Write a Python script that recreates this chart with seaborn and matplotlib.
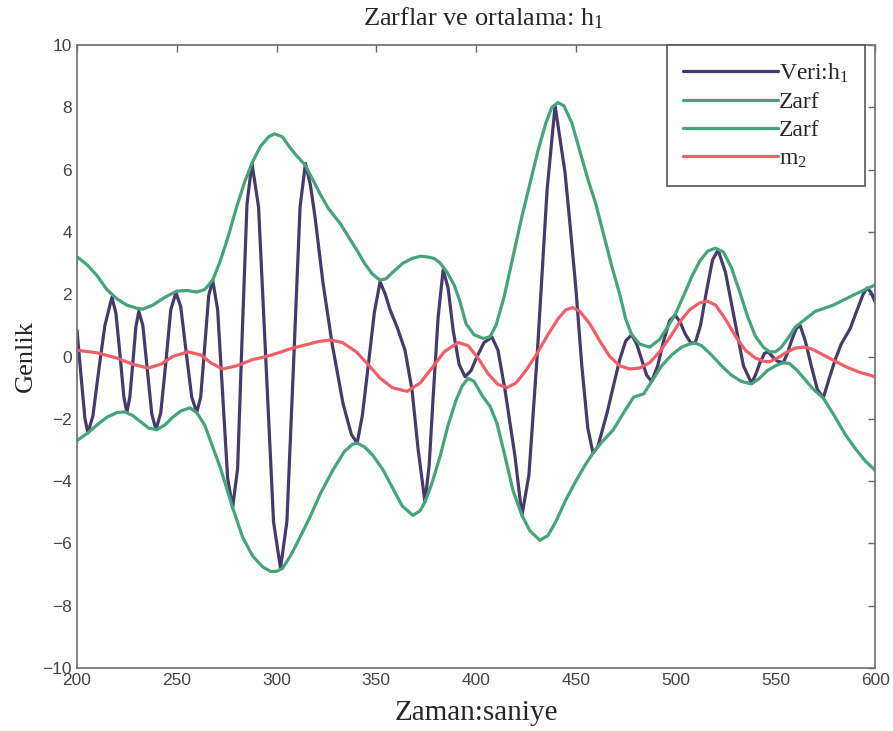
import numpy as np
import pandas as pd
import matplotlib
matplotlib.use('Agg')
import matplotlib.pyplot as plt
import seaborn as sns

# signal h1
sig_x = [200, 202, 204, 205.5, 208, 211, 214, 217.5, 219.5, 221.5, 223.5, 225, 226.5, 228, 229.5, 231,
         233, 235.3, 237.5, 239.6, 242, 244.6, 247, 249.6, 252, 254.8, 257.5, 260, 262, 264, 266, 268,
         270.5, 273, 275.5, 278, 280.5, 282.8, 285.2, 287.7, 291, 294.8, 298.5, 302, 305.2, 308.5, 311.8,
         314.5, 317, 319.3, 323.3, 327.8, 333.3, 337.5, 340.4, 343, 345.9, 349, 351.9, 354.5, 356.9,
         360.4, 364.4, 367.9, 371, 374.4, 376.5, 378.4, 381, 383.5, 386, 388.5, 391.5, 394.5, 397.5,
         400.5, 404, 408, 411, 414.5, 419.5, 423, 426.5, 430.6, 435.6, 439.6, 444.6, 447, 450, 453, 456,
         458.6, 461, 465.7, 469, 472, 475, 478, 480.5, 483, 485.5, 488, 491, 494, 497, 499.8, 502.3, 505,
         507.5, 509.8, 512.5, 515.5, 518.5, 521.3, 525, 529.5, 534, 538, 540, 542.3, 544.5, 546.4, 548.5,
         551, 554, 556, 558.3, 560.5, 562.4, 565, 568, 571, 574, 577, 580, 583, 587.5, 591, 594, 596, 598, 600]
sig_y = [0.85, -0.6, -2.0, -2.45, -1.9, -0.4, 1.0, 1.9, 1.4, 0.1, -1.3, -1.8, -1.3, -0.2, 0.95, 1.45,
         1.0, -0.45, -1.85, -2.35, -1.8, -0.15, 1.5, 2.05, 1.6, 0.1, -1.3, -1.8, -1.3, 0.3, 1.95, 2.45,
         1.5, -1.2, -3.9, -4.85, -3.6, 0.7, 4.9, 6.2, 4.8, -0.3, -5.3, -6.8, -5.3, -0.3, 4.8,
         6.2, 5.5, 4.48, 2.36, 0.43, -1.5, -2.5, -2.78, -1.9, -0.33, 1.4, 2.4, 2.0, 1.5,
         0.95, 0.2, -1.07, -3.0, -4.67, -3.5, -1.4, 1.27, 2.78, 2.2, 0.85, -0.25, -0.65, -0.45,
         0.0, 0.45, 0.62, 0.2, -1.07, -3.2, -5.1, -3.8, 0.0, 5.35, 8.05, 5.9, 4.3, 2.2, -0.3, -2.3,
         -3.1, -2.9, -1.8, -0.9, -0.1, 0.5, 0.7, 0.4, -0.1, -0.6, -0.8, -0.3, 0.5, 1.15, 1.33, 1.1, 0.7,
         0.45, 0.43, 1.0, 2.1, 3.1, 3.42, 2.7, 1.2, -0.3, -0.85, -0.6, -0.2, 0.1, 0.15, 0.0,
         -0.15, -0.2, 0.1, 0.55, 0.9, 1.0, 0.5, -0.3, -1.05, -1.33, -0.7, -0.1, 0.4, 0.9, 1.5, 2.0, 2.2, 2.05, 1.75]

# upper envelope
up_x = [200, 205, 210, 215, 220, 225, 230, 233, 238, 244, 250, 255, 260, 264, 268, 272, 276, 280, 284,
        288, 292, 296, 299, 303, 306.8, 310, 314.3, 318, 322, 326, 331.8, 336, 340.4, 344, 348, 351.9,
        355, 359, 363.4, 368, 372, 375.4, 379, 382, 385.5, 389, 392, 395, 399, 403.5, 407, 410, 414,
        418.5, 423, 427, 431, 435, 438, 441, 444, 448, 452, 456, 460, 464, 468, 472, 475, 478, 482, 487,
        492, 496, 499.8, 504, 508, 512, 516, 520, 524, 528, 532, 536, 540, 544, 547, 550, 553, 557, 560,
        564, 570, 579, 590, 600]
up_y = [3.2, 2.95, 2.6, 2.15, 1.85, 1.65, 1.55, 1.52, 1.65, 1.9, 2.1, 2.12, 2.07, 2.15, 2.45, 3.1, 3.9,
        4.8, 5.6, 6.25, 6.75, 7.05, 7.15, 7.05, 6.7, 6.45, 6.15, 5.7, 5.2, 4.75, 4.28, 3.85, 3.4, 3.0,
        2.65, 2.45, 2.5, 2.75, 3.0, 3.15, 3.22, 3.2, 3.15, 3.0, 2.7, 2.3, 1.75, 1.05, 0.7, 0.58, 0.63, 1.0,
        1.9, 3.2, 4.5, 5.55, 6.6, 7.5, 8.0, 8.15, 8.05, 7.5, 6.6, 5.7, 4.9, 3.9, 2.9, 2.0, 1.2, 0.7, 0.4,
        0.3, 0.55, 0.95, 1.35, 1.95, 2.55, 3.05, 3.38, 3.48, 3.35, 2.85, 2.1, 1.3, 0.65, 0.3, 0.15, 0.15,
        0.3, 0.65, 0.95, 1.15, 1.45, 1.65, 2.0, 2.3]

# lower envelope
lo_x = [200, 205.5, 210, 215, 220, 224, 228, 232, 236, 240, 244, 248, 252, 256.6, 260, 264, 268, 272,
        278, 283, 288, 293, 297, 300, 303, 307, 311, 316.8, 322, 328.3, 334, 338, 340.4, 344, 348, 353.4,
        358, 363, 368.4, 372, 374.4, 378, 382, 386, 390, 393, 396, 399, 403, 407, 410.5, 414.5, 418.5, 423,
        427, 432, 436, 440, 445, 450, 455, 458.6, 463, 468.7, 474, 479, 484, 488, 493, 498, 503, 507,
        509.8, 513, 518, 523, 528, 533, 538, 542, 546, 550, 554, 557, 561, 565, 569, 574, 580, 585, 590,
        595, 600]
lo_y = [-2.7, -2.45, -2.2, -1.95, -1.8, -1.78, -1.9, -2.1, -2.3, -2.35, -2.2, -1.95, -1.75, -1.65, -1.8,
        -2.2, -2.9, -3.6, -4.85, -5.8, -6.4, -6.75, -6.9, -6.9, -6.8, -6.4, -5.9, -5.15, -4.4, -3.64,
        -3.05, -2.82, -2.78, -2.9, -3.15, -3.64, -4.2, -4.8, -5.1, -4.95, -4.67, -4.05, -3.2, -2.2, -1.4,
        -0.95, -0.7, -0.8, -1.25, -1.6, -2.15, -3.2, -4.3, -5.1, -5.6, -5.9, -5.75, -5.3, -4.6, -4.0,
        -3.45, -3.1, -2.75, -2.36, -1.8, -1.3, -1.2, -0.8, -0.3, 0.05, 0.3, 0.4, 0.43, 0.35, 0.05, -0.3,
        -0.6, -0.8, -0.88, -0.7, -0.45, -0.3, -0.2, -0.22, -0.45, -0.75, -1.05, -1.33, -1.95, -2.5,
        -2.95, -3.35, -3.65]

# mean m2
m_x = [200, 210, 220, 228, 235.6, 242, 248, 255.6, 262, 267, 273, 280, 288, 295, 301, 308, 315, 321, 327,
       333, 340, 346.9, 352, 358, 365.4, 372, 378.4, 384, 391, 396, 401, 406, 411, 415.5, 420, 425, 430.6,
       436, 441, 445, 448.5, 452, 457, 462, 467, 472, 477, 482, 487, 492, 497, 502, 507, 512, 516, 520,
       525, 530, 535, 540, 544, 547, 551, 556, 560, 564, 568, 574, 580, 586, 592, 600]
m_y = [0.2, 0.12, -0.05, -0.25, -0.37, -0.25, 0.0, 0.15, 0.05, -0.2, -0.4, -0.3, -0.1, 0.0, 0.12, 0.27,
       0.38, 0.48, 0.53, 0.45, 0.15, -0.33, -0.7, -1.0, -1.12, -0.85, -0.33, 0.15, 0.45, 0.35, -0.05,
       -0.55, -0.9, -1.0, -0.85, -0.45, 0.1, 0.7, 1.2, 1.5, 1.57, 1.45, 1.05, 0.5, 0.0, -0.3, -0.4,
       -0.37, -0.2, 0.15, 0.6, 1.1, 1.5, 1.72, 1.78, 1.65, 1.2, 0.65, 0.2, -0.05, -0.15, -0.17, -0.05,
       0.15, 0.27, 0.3, 0.25, 0.05, -0.15, -0.35, -0.5, -0.65]

x_ticks = [200, 250, 300, 350, 400, 450, 500, 550, 600]
y_ticks = [-10, -8, -6, -4, -2, 0, 2, 4, 6, 8, 10]

sns.set_style('white')
plt.rcParams['font.family'] = ['Liberation Serif', 'DejaVu Serif']
plt.rcParams['mathtext.fontset'] = 'custom'
plt.rcParams['mathtext.rm'] = 'Liberation Serif'
plt.rcParams['mathtext.it'] = 'Liberation Serif:italic'

purple = '#463a6c'
green = '#45a47a'
red = '#ef5f67'

fig = plt.figure(figsize=(8.93, 7.31), dpi=100)
ax = fig.add_axes([0.0862, 0.0862, 0.8938, 0.8522])

sns.lineplot(x=sig_x, y=sig_y, ax=ax, color=purple, lw=2.3, estimator=None, sort=False, label='Veri:h$_1$')
sns.lineplot(x=up_x, y=up_y, ax=ax, color=green, lw=2.3, estimator=None, sort=False, label='Zarf')
sns.lineplot(x=lo_x, y=lo_y, ax=ax, color=green, lw=2.3, estimator=None, sort=False, label='Zarf')
sns.lineplot(x=m_x, y=m_y, ax=ax, color=red, lw=2.3, estimator=None, sort=False, label='m$_2$')

ax.set_xlim(200, 600)
ax.set_ylim(-10, 10)
ax.set_xticks(x_ticks)
ax.set_yticks(y_ticks)
ax.tick_params(direction='in', length=5, width=1, colors='#666666', top=True, right=True,
               labelcolor='#444444', labelsize=12.5)
for lab in ax.get_xticklabels() + ax.get_yticklabels():
    lab.set_family('Liberation Sans')
for s in ax.spines.values():
    s.set_color('#777777')
    s.set_linewidth(1.3)

ax.set_title('Zarflar ve ortalama: h$_1$', fontsize=19, pad=14, x=0.51)
ax.set_xlabel('Zaman:saniye', fontsize=21, labelpad=9)
ax.set_ylabel('Genlik', fontsize=19, labelpad=4)

leg = ax.legend(loc='upper right', bbox_to_anchor=(0.9875, 1.0), borderaxespad=0, fontsize=17,
                handlelength=4.0, handletextpad=0.05, labelspacing=0.28, fancybox=False,
                framealpha=1, edgecolor='#555555', borderpad=0.7)
leg.get_frame().set_linewidth(1.2)

fig.savefig('out.png', dpi=100)
